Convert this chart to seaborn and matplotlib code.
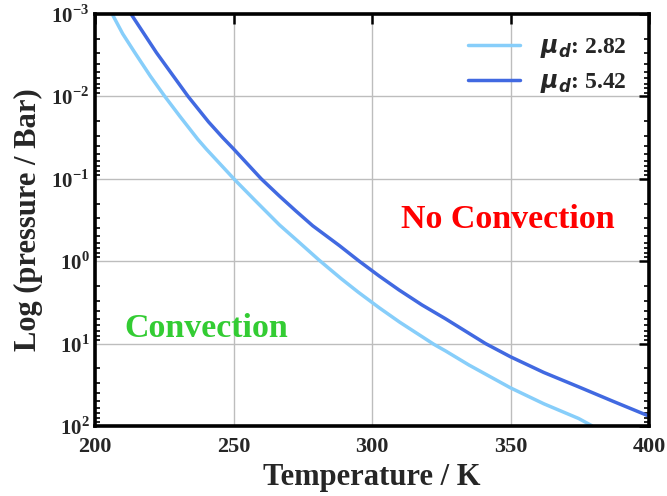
import matplotlib
matplotlib.use("Agg")
import matplotlib.pyplot as plt
import seaborn as sns
import pandas as pd
from matplotlib.ticker import FixedLocator, FixedFormatter, LogLocator, NullFormatter

# ---- data (temperature in K, log10 of pressure in bar) ----
temp_mu282 = [206.2, 210.0, 214.4, 220.0, 225.2, 230.6, 237.1, 240.2, 250.4, 258.0, 266.6,
              273.0, 281.0, 288.8, 295.0, 302.6, 310.0, 322.4, 326.6, 335.0, 350.0, 362.0,
              374.6, 379.4]
logp_mu282 = [-3.00, -2.76, -2.53, -2.245, -2.00, -1.76, -1.48, -1.36, -0.99, -0.73, -0.44,
              -0.25, -0.01, 0.21, 0.375, 0.565, 0.74, 1.01, 1.09, 1.26, 1.537, 1.73,
              1.909, 1.997]

temp_mu542 = [213.0, 217.5, 222.2, 228.0, 233.6, 241.0, 246.1, 250.1, 260.0, 266.6, 272.5,
              278.6, 288.2, 295.4, 302.6, 309.8, 318.0, 326.6, 341.0, 350.0, 362.0, 374.6,
              387.0, 400.0]
logp_mu542 = [-3.00, -2.77, -2.53, -2.26, -2.00, -1.69, -1.50, -1.36, -1.00, -0.79, -0.61,
              -0.43, -0.19, 0.00, 0.18, 0.35, 0.53, 0.70, 1.00, 1.16, 1.35, 1.525,
              1.70, 1.88]

series_labels = [r"$\mu_d$: 2.82", r"$\mu_d$: 5.42"]
series_colors = ["#87CEFA", "#4169E1"]

x_ticks = [200, 250, 300, 350, 400]
x_tick_labels = ["200", "250", "300", "350", "400"]
y_ticks = [1e-3, 1e-2, 1e-1, 1e0, 1e1, 1e2]
y_tick_labels = [r"$10^{-3}$", r"$10^{-2}$", r"$10^{-1}$", r"$10^{0}$", r"$10^{1}$", r"$10^{2}$"]

x_label = "Temperature / K"
y_label = "Log (pressure / Bar)"
region_labels = ["No Convection", "Convection"]
region_pos = [(349, 10 ** -0.50), (240, 10 ** 0.82)]
region_colors = ["#FF0000", "#33CC33"]

# ---- build table ----
df = pd.concat([
    pd.DataFrame({"T": temp_mu282, "p": [10 ** v for v in logp_mu282], "series": series_labels[0]}),
    pd.DataFrame({"T": temp_mu542, "p": [10 ** v for v in logp_mu542], "series": series_labels[1]}),
], ignore_index=True)

sns.set_style("white")
plt.rcParams["font.family"] = ["Liberation Serif", "DejaVu Serif"]
plt.rcParams["font.weight"] = "bold"
plt.rcParams["axes.labelweight"] = "bold"
plt.rcParams["mathtext.fontset"] = "custom"
plt.rcParams["mathtext.rm"] = "Liberation Serif:bold"
plt.rcParams["mathtext.bf"] = "Liberation Serif:bold"
plt.rcParams["mathtext.it"] = "DejaVu Sans:italic:bold"

fig = plt.figure(figsize=(6.67, 4.96), dpi=100)
ax = fig.add_axes([95 / 667, 1 - 426 / 496, (649 - 95) / 667, (426 - 14) / 496])

sns.lineplot(data=df, x="T", y="p", hue="series", palette=series_colors,
             linewidth=2.5, ax=ax, sort=False)

ax.set_yscale("log")
ax.set_xlim(200, 400)
ax.set_ylim(1e2, 1e-3)

ax.xaxis.set_major_locator(FixedLocator(x_ticks))
ax.xaxis.set_major_formatter(FixedFormatter(x_tick_labels))
ax.yaxis.set_major_locator(FixedLocator(y_ticks))
ax.yaxis.set_major_formatter(FixedFormatter(y_tick_labels))
ax.yaxis.set_minor_locator(LogLocator(base=10, subs=range(2, 10), numticks=20))
ax.yaxis.set_minor_formatter(NullFormatter())

ax.grid(True, which="major", color="#bdbdbd", linewidth=1.0)
for s in ax.spines.values():
    s.set_linewidth(2.6)
    s.set_color("black")

ax.tick_params(axis="both", which="major", direction="in", length=7, width=1.8,
               top=True, right=True, color="black")
ax.tick_params(axis="y", which="minor", direction="in", length=3.5, width=1.2,
               left=True, right=True, color="black")
ax.tick_params(axis="x", labelsize=16, pad=8)
ax.tick_params(axis="y", labelsize=15, pad=4)

ax.set_xlabel(x_label, fontsize=22, fontweight="bold", labelpad=4)
ax.set_ylabel(y_label, fontsize=22, fontweight="bold", labelpad=6)

for lab, pos, col in zip(region_labels, region_pos, region_colors):
    ax.text(pos[0], pos[1], lab, color=col, fontsize=24.5, fontweight="bold",
            ha="center", va="center")

leg = ax.legend(loc="upper right", frameon=False, fontsize=17, handlelength=2.2,
                handletextpad=0.85, labelspacing=0.45, borderaxespad=0.55)
for line in leg.get_lines():
    line.set_linewidth(2.5)

fig.savefig("out.png", dpi=100)
